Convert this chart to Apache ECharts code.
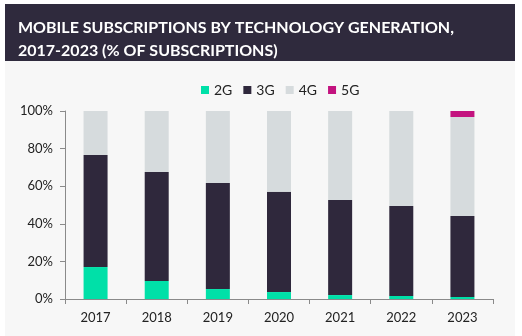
<!DOCTYPE html>
<html><head><meta charset="utf-8">
<script src="https://cdn.jsdelivr.net/npm/echarts@6/dist/echarts.min.js"></script>
<style>html,body{margin:0;padding:0;background:#fff}#c{width:522px;height:336px}</style>
</head><body><div id="c"></div>
<script>
const years = ['2017','2018','2019','2020','2021','2022','2023'];
const g2 = [17.0, 9.6, 5.3, 3.7, 2.1, 1.6, 1.1];
const g3 = [59.6, 58.0, 56.4, 53.3, 50.6, 47.9, 43.0];
const g4 = [23.4, 32.4, 38.3, 43.0, 47.3, 50.5, 52.7];
const g5 = [0, 0, 0, 0, 0, 0, 3.2];
const yTicks = [0, 20, 40, 60, 80, 100];
const titleText = 'MOBILE SUBSCRIPTIONS BY TECHNOLOGY GENERATION,\n2017-2023 (% OF SUBSCRIPTIONS)';

const font = 'Lato';
const chart = echarts.init(document.getElementById('c'), null, {renderer:'canvas'});
function bar(name, data, color){
  return {name, type:'bar', stack:'t', data, barWidth:24, itemStyle:{color}, emphasis:{disabled:true}};
}
chart.setOption({
  animation:false,
  backgroundColor:'#ffffff',
  graphic:[
    {type:'rect', shape:{x:5,y:60,width:510,height:276}, style:{fill:'#f7f7f7'}, z:-10},
    {type:'rect', shape:{x:5,y:4,width:510,height:57}, style:{fill:'#2f2a3d'}, z:-10}
  ],
  title:{text:titleText, left:13, top:11,
    textStyle:{color:'#ffffff', fontFamily:font, fontWeight:'bold', fontSize:16, lineHeight:23}},
  legend:{left:196, top:78, itemWidth:8, itemHeight:8, itemGap:11, icon:'rect',
    textStyle:{fontFamily:font, fontSize:14, color:'#222'},
    data:['2G','3G','4G','5G']},
  grid:{left:65, right:29, top:111, bottom:37},
  xAxis:{type:'category', data:years,
    axisLine:{lineStyle:{color:'#8a8a8a', width:1}},
    axisTick:{show:true, length:5, alignWithLabel:false, lineStyle:{color:'#8a8a8a'}},
    axisLabel:{fontFamily:font, fontSize:13, color:'#222', margin:12}},
  yAxis:{type:'value', min:0, max:100, interval:20,
    axisLine:{show:true, lineStyle:{color:'#8a8a8a', width:1}},
    axisTick:{show:true, length:5, lineStyle:{color:'#8a8a8a'}},
    splitLine:{show:false},
    axisLabel:{fontFamily:font, fontSize:13, color:'#222', margin:12,
      formatter:function(v){return yTicks.indexOf(v)>=0 ? v+'%' : '';}}},
  series:[bar('2G',g2,'#00e0a8'), bar('3G',g3,'#2f283c'), bar('4G',g4,'#d6dbdd'), bar('5G',g5,'#c3137f')]
});
</script></body></html>
